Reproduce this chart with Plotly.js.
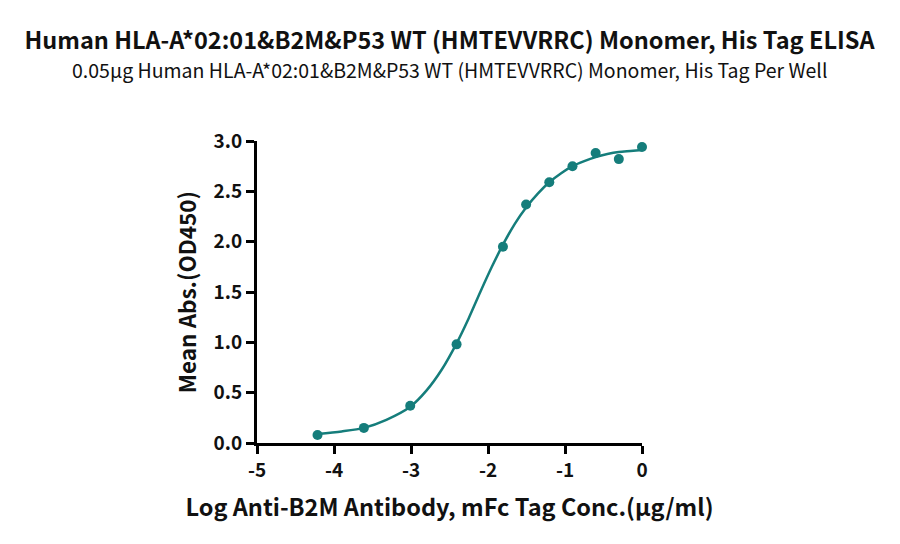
<!DOCTYPE html>
<html>
<head>
<meta charset="utf-8">
<script src="https://cdn.plot.ly/plotly-3.0.1.min.js"></script>
<style>html,body{margin:0;padding:0;background:#fff;}#chart{width:900px;height:544px;}</style>
</head>
<body>
<div id="chart"></div>
<script>
// Measured points (log concentration, mean OD450)
const logConc = [-4.214, -3.612, -3.010, -2.408, -1.806, -1.505, -1.204, -0.903, -0.602, -0.301, 0];
const meanAbs = [0.08, 0.15, 0.37, 0.98, 1.95, 2.37, 2.59, 2.75, 2.88, 2.82, 2.94];

// Fitted curve
const curveX = [-4.214, -3.9, -3.612, -3.32, -3.010, -2.8, -2.6, -2.408, -2.25, -2.1, -1.95, -1.806, -1.65, -1.505, -1.35, -1.204, -1.05, -0.903, -0.75, -0.602, -0.45, -0.301, -0.15, 0];
const curveY = [0.09, 0.115, 0.15, 0.23, 0.36, 0.52, 0.73, 0.99, 1.24, 1.50, 1.75, 1.97, 2.18, 2.34, 2.48, 2.59, 2.68, 2.75, 2.80, 2.84, 2.87, 2.89, 2.90, 2.91];

const xTicks = [-5, -4, -3, -2, -1, 0];
const yTicks = [0.0, 0.5, 1.0, 1.5, 2.0, 2.5, 3.0];
const yTickText = ['0.0', '0.5', '1.0', '1.5', '2.0', '2.5', '3.0'];

const titleText = 'Human HLA-A*02:01&B2M&P53 WT (HMTEVVRRC) Monomer, His Tag ELISA';
const subtitleText = '0.05µg Human HLA-A*02:01&B2M&P53 WT (HMTEVVRRC) Monomer, His Tag Per Well';
const xTitle = 'Log Anti-B2M Antibody, mFc Tag Conc.(µg/ml)';
const yTitle = 'Mean Abs.(OD450)';

const teal = '#157d7b';
const fam = '"Noto Sans CJK SC", "Noto Sans", sans-serif';

const traces = [
  {x: curveX, y: curveY, mode: 'lines', type: 'scatter', line: {color: teal, width: 2.5, shape: 'spline', smoothing: 0.8}, hoverinfo: 'skip', cliponaxis: false},
  {x: logConc, y: meanAbs, mode: 'markers', type: 'scatter', marker: {color: teal, size: 10}, cliponaxis: false}
];

const layout = {
  width: 900, height: 544,
  margin: {l: 257, r: 258, t: 141, b: 101},
  paper_bgcolor: '#fff', plot_bgcolor: '#fff',
  showlegend: false,
  title: {text: titleText, x: 0.5, xanchor: 'center', xref: 'paper', y: 1 - 41 / 544, yanchor: 'middle', yref: 'container',
    font: {family: fam, size: 23.5, weight: 700, color: '#111'}},
  annotations: [
    {text: subtitleText, xref: 'paper', yref: 'paper', x: 0.5, xanchor: 'center',
     y: 1, yshift: 72, yanchor: 'middle', showarrow: false,
     font: {family: fam, size: 19.5, color: '#111'}}
  ],
  xaxis: {
    range: [-5, 0], tickvals: xTicks, ticktext: xTicks.map(String),
    showline: true, linecolor: '#000', linewidth: 3, mirror: false,
    ticks: 'outside', ticklen: 8, tickwidth: 3, tickcolor: '#000',
    showgrid: false, zeroline: false,
    tickfont: {family: fam, size: 19, weight: 700, color: '#111'},
    title: {text: xTitle, standoff: 19, font: {family: fam, size: 23.5, weight: 700, color: '#111'}}
  },
  yaxis: {
    range: [0, 3], tickvals: yTicks, ticktext: yTickText,
    showline: true, linecolor: '#000', linewidth: 3,
    ticks: 'outside', ticklen: 8, tickwidth: 3, tickcolor: '#000',
    showgrid: false, zeroline: false,
    tickfont: {family: fam, size: 19, weight: 700, color: '#111'},
    title: {text: yTitle, standoff: 11, font: {family: fam, size: 22.5, weight: 700, color: '#111'}}
  }
};

Plotly.newPlot('chart', traces, layout, {displayModeBar: false, staticPlot: true});
</script>
</body>
</html>
